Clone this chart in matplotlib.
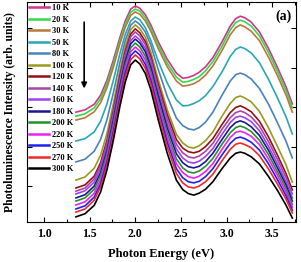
import numpy as np
import matplotlib
matplotlib.use('Agg')
import matplotlib.pyplot as plt
from matplotlib.ticker import MultipleLocator

plt.rcParams['font.family'] = ['Liberation Serif', 'DejaVu Serif']
plt.rcParams['font.weight'] = 'bold'

# photon energy (eV) at which the spectra were read
energy = [1.35, 1.45, 1.55, 1.62, 1.69, 1.76, 1.83, 1.89, 1.95, 2.00, 2.05,
          2.11, 2.17, 2.25, 2.35, 2.45, 2.52, 2.58, 2.64, 2.70, 2.77, 2.85,
          2.95, 3.04, 3.10, 3.15, 3.20, 3.27, 3.36, 3.46, 3.56, 3.65, 3.72]

labels = ['10 K', '20 K', '30 K', '50 K', '80 K', '100 K', '120 K', '140 K',
          '160 K', '180 K', '200 K', '220 K', '250 K', '270 K', '300 K']

colors = ['#d2338c', '#33d94d', '#b8783c', '#28a8b4', '#4a82c0', '#9a9a1e',
          '#960f14', '#a846a8', '#a040f0', '#181890', '#28902a', '#f020f0',
          '#2020f0', '#f02828', '#000000']

# PL intensity (arb. units), stacked as in the figure
pl_10K = [2.87, 2.93, 3.07, 3.30, 3.68, 4.19, 4.75, 5.18, 5.48, 5.56, 5.50,
          5.34, 5.08, 4.66, 4.21, 3.86, 3.73, 3.75, 3.80, 3.88, 4.02, 4.25,
          4.65, 5.05, 5.24, 5.30, 5.26, 5.15, 4.90, 4.48, 3.99, 3.52, 3.08]
pl_20K = [2.77, 2.83, 2.98, 3.21, 3.59, 4.10, 4.67, 5.10, 5.40, 5.48, 5.43,
          5.26, 5.00, 4.58, 4.11, 3.76, 3.63, 3.65, 3.70, 3.77, 3.92, 4.15,
          4.54, 4.95, 5.14, 5.20, 5.16, 5.05, 4.80, 4.38, 3.89, 3.42, 2.98]
pl_30K = [2.67, 2.73, 2.88, 3.11, 3.49, 4.01, 4.59, 5.02, 5.32, 5.41, 5.35,
          5.18, 4.92, 4.49, 4.02, 3.66, 3.53, 3.55, 3.59, 3.67, 3.81, 4.04,
          4.43, 4.83, 5.01, 5.08, 5.03, 4.92, 4.68, 4.26, 3.78, 3.31, 2.87]
pl_50K = [2.14, 2.20, 2.37, 2.64, 3.08, 3.68, 4.34, 4.84, 5.18, 5.28, 5.21,
          5.01, 4.69, 4.17, 3.61, 3.18, 3.03, 3.04, 3.09, 3.16, 3.29, 3.52,
          3.89, 4.28, 4.46, 4.52, 4.48, 4.37, 4.12, 3.70, 3.22, 2.76, 2.32]
pl_80K = [1.61, 1.68, 1.88, 2.18, 2.68, 3.36, 4.11, 4.68, 5.07, 5.18, 5.09,
          4.90, 4.57, 3.96, 3.27, 2.72, 2.53, 2.45, 2.42, 2.48, 2.62, 2.87,
          3.30, 3.66, 3.82, 3.86, 3.82, 3.71, 3.47, 3.07, 2.59, 2.14, 1.71]
pl_100K = [1.15, 1.23, 1.45, 1.78, 2.33, 3.08, 3.90, 4.53, 4.96, 5.08, 4.98,
           4.77, 4.39, 3.71, 2.93, 2.31, 2.09, 1.99, 1.96, 2.02, 2.15, 2.37,
           2.77, 3.09, 3.24, 3.28, 3.23, 3.13, 2.89, 2.47, 1.99, 1.54, 1.10]
pl_120K = [0.95, 1.03, 1.25, 1.59, 2.16, 2.92, 3.77, 4.41, 4.85, 4.98, 4.88,
           4.66, 4.28, 3.59, 2.81, 2.18, 1.96, 1.87, 1.84, 1.88, 2.00, 2.20,
           2.56, 2.86, 2.99, 3.03, 2.98, 2.88, 2.64, 2.24, 1.77, 1.32, 0.90]
pl_140K = [0.87, 0.95, 1.18, 1.52, 2.08, 2.85, 3.69, 4.34, 4.78, 4.90, 4.80,
           4.58, 4.20, 3.50, 2.70, 2.06, 1.84, 1.74, 1.71, 1.76, 1.88, 2.08,
           2.44, 2.73, 2.86, 2.90, 2.86, 2.75, 2.52, 2.12, 1.66, 1.22, 0.80]
pl_160K = [0.80, 0.88, 1.10, 1.44, 2.00, 2.76, 3.60, 4.24, 4.68, 4.80, 4.70,
           4.48, 4.09, 3.38, 2.58, 1.94, 1.71, 1.61, 1.58, 1.63, 1.75, 1.95,
           2.31, 2.61, 2.74, 2.77, 2.73, 2.63, 2.40, 2.00, 1.55, 1.11, 0.70]
pl_180K = [0.70, 0.78, 1.00, 1.34, 1.90, 2.67, 3.51, 4.16, 4.60, 4.72, 4.62,
           4.40, 4.00, 3.29, 2.47, 1.82, 1.59, 1.49, 1.46, 1.50, 1.62, 1.83,
           2.18, 2.48, 2.61, 2.65, 2.61, 2.50, 2.28, 1.90, 1.45, 1.03, 0.62]
pl_200K = [0.62, 0.70, 0.92, 1.26, 1.82, 2.58, 3.42, 4.06, 4.50, 4.62, 4.52,
           4.29, 3.90, 3.17, 2.35, 1.69, 1.46, 1.36, 1.33, 1.38, 1.50, 1.70,
           2.06, 2.35, 2.48, 2.52, 2.48, 2.38, 2.16, 1.79, 1.35, 0.94, 0.54]
pl_220K = [0.52, 0.60, 0.82, 1.16, 1.72, 2.48, 3.32, 3.96, 4.40, 4.52, 4.42,
           4.19, 3.79, 3.06, 2.23, 1.57, 1.34, 1.24, 1.20, 1.25, 1.37, 1.57,
           1.93, 2.23, 2.36, 2.39, 2.35, 2.26, 2.05, 1.68, 1.26, 0.85, 0.47]
pl_250K = [0.42, 0.50, 0.72, 1.06, 1.62, 2.38, 3.22, 3.86, 4.30, 4.42, 4.32,
           4.08, 3.68, 2.95, 2.11, 1.44, 1.21, 1.11, 1.08, 1.12, 1.24, 1.44,
           1.79, 2.08, 2.21, 2.24, 2.20, 2.11, 1.91, 1.56, 1.15, 0.76, 0.39]
pl_270K = [0.34, 0.42, 0.64, 0.98, 1.53, 2.29, 3.12, 3.76, 4.20, 4.32, 4.22,
           3.98, 3.58, 2.84, 1.99, 1.32, 1.08, 0.98, 0.95, 1.00, 1.11, 1.30,
           1.64, 1.93, 2.06, 2.09, 2.05, 1.97, 1.77, 1.43, 1.04, 0.67, 0.32]
pl_300K = [0.22, 0.30, 0.51, 0.85, 1.41, 2.16, 3.00, 3.63, 4.07, 4.19, 4.09,
           3.85, 3.44, 2.69, 1.83, 1.15, 0.91, 0.81, 0.77, 0.82, 0.92, 1.11,
           1.44, 1.71, 1.83, 1.86, 1.83, 1.74, 1.56, 1.24, 0.88, 0.52, 0.19]

spectra = [pl_10K, pl_20K, pl_30K, pl_50K, pl_80K, pl_100K, pl_120K, pl_140K,
           pl_160K, pl_180K, pl_200K, pl_220K, pl_250K, pl_270K, pl_300K]

fig = plt.figure(figsize=(3.01, 2.62), dpi=100)
ax = fig.add_axes([0.0897, 0.1527, 0.8936, 0.8397])

for y, lab, c in zip(spectra, labels, colors):
    ax.plot(energy, y, color=c, lw=1.2, label=lab, solid_joinstyle='round')

# arrow: increasing temperature
ax.annotate('', xy=(1.44, 3.40), xytext=(1.44, 5.22),
            arrowprops=dict(arrowstyle='-|>', color='black', lw=1.2,
                            mutation_scale=8))

ax.text(0.985, 0.965, '(a)', transform=ax.transAxes, ha='right', va='top',
        fontsize=10, fontweight='bold')

ax.set_xlim(0.814, 3.76)
ax.set_ylim(0.09, 5.66)
ax.xaxis.set_major_locator(MultipleLocator(0.5))
ax.xaxis.set_minor_locator(MultipleLocator(0.25))
ax.set_yticks([1, 2, 3, 4, 5])
ax.set_yticklabels([])
ax.tick_params(which='both', direction='in', top=True, right=True, width=0.8)
ax.tick_params(which='major', length=3.5, labelsize=8.5, pad=4)
ax.tick_params(which='minor', length=2)
for lab in ax.get_xticklabels():
    lab.set_fontweight('bold')

ax.set_xlabel('Photon Energy (eV)', fontsize=9, fontweight='bold', labelpad=6)
ax.set_ylabel('Photoluminescence Intensity (arb. units)', fontsize=8.4,
              fontweight='bold', labelpad=4)

leg = ax.legend(loc='upper left', bbox_to_anchor=(0.0, 1.0), frameon=False,
                fontsize=6, handlelength=2.4, handletextpad=0.3,
                labelspacing=0.42, borderaxespad=0.15, borderpad=0.1)
for line in leg.get_lines():
    line.set_linewidth(1.8)

fig.savefig('out.png', dpi=100)
